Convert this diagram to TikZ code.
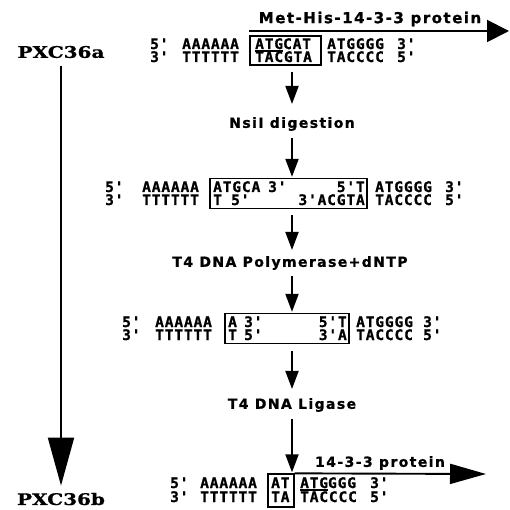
\documentclass[tikz,border=0pt]{standalone}
\usepackage{fontspec}
\newfontfamily\dnafont[LetterSpace=6,FakeBold=1]{DejaVu Sans Mono Bold}
\newfontfamily\labfont[LetterSpace=10,FakeBold=1]{DejaVu Sans Bold}
\newfontfamily\pxcfont[FakeBold=0.6]{DejaVu Serif Bold}
\usetikzlibrary{arrows.meta}
\newcommand{\ulbar}[1]{\setbox0\hbox{#1}\rlap{\rule[-2.8pt]{\wd0}{1.5pt}}\box0}
\begin{document}
\begin{tikzpicture}[x=1pt,y=-1pt,
  dna/.style={anchor=base west,inner sep=0pt,font=\dnafont\fontsize{14.5}{16}\selectfont},
  lab/.style={inner sep=0pt,font=\labfont\fontsize{14}{16}\selectfont},
  pxc/.style={inner sep=0pt,font=\pxcfont\fontsize{16}{18}\selectfont},
  cutbox/.style={draw,line width=1.3pt,inner sep=0pt},
  stepline/.style={line width=1.9pt,-{Triangle[length=18pt,width=13pt]}},
  orfline/.style={line width=1.9pt,-{Triangle[length=22pt,width=22pt]}},
  bigline/.style={line width=1.9pt,-{Triangle[length=48pt,width=26pt]}}]
\useasboundingbox (0,0) rectangle (509,510);
% plasmid names
\node[pxc] (pa) at (61,52) {\scalebox{1.25}[1]{PXC36a}};
\node[pxc] (pb) at (61,499) {\scalebox{1.25}[1]{PXC36b}};
\draw[bigline,shorten <=8pt,shorten >=7pt] (pa.south) -- (pb.north);
% pXC36a site
\node[cutbox,minimum width=71pt,minimum height=29pt] (b1) at (285.5,50.5) {};
\foreach \t/\x [count=\i] in {5'/150,AAAAAA/182,ATGGGG/327,3'/397} \node[dna] (ra\i) at (\x,49) {\t};
\node[dna] (ra5) at (255,49) {\ulbar{ATG}CAT};
\foreach \t/\x [count=\i] in {3'/150,TTTTTT/182,TACGTA/255,TACCCC/327,5'/397} \node[dna] (rb\i) at (\x,62) {\t};
\node[lab,font=\labfont\fontsize{15}{17}\selectfont] (met) at (370,19) {Met-His-14-3-3 protein};
\coordinate (mtip) at (509,31);
\draw[orfline] (b1.north west |- mtip) -- (mtip);
% steps
\node[lab] (nsi) at (292,124) {NsiI digestion};
\node[lab] (poly) at (290,263) {T4 DNA Polymerase+dNTP};
\node[lab] (liga) at (292,405) {T4 DNA Ligase};
% cut ends
\node[cutbox,minimum width=157pt,minimum height=30pt] (b2) at (288.5,193.5) {};
\foreach \t/\x [count=\i] in {5'/105,AAAAAA/142,ATGCA/213,3'/268,ATGGGG/375,3'/445} \node[dna] (rc\i) at (\x,192) {\t};
\node[dna,anchor=base east] (rc7) at (365,192) {5'T};
\foreach \t/\x [count=\i] in {3'/105,TTTTTT/142,T/213,5'/231,TACCCC/375,5'/445} \node[dna] (rd\i) at (\x,205) {\t};
\node[dna,anchor=base east] (rd7) at (365,205) {3'ACGTA};
% blunt ends
\node[cutbox,minimum width=124pt,minimum height=30pt] (b3) at (287,328.5) {};
\foreach \t/\x [count=\i] in {5'/122,AAAAAA/155,A/228,3'/244,ATGGGG/356,3'/423} \node[dna] (re\i) at (\x,327) {\t};
\node[dna,anchor=base east] (re7) at (347,327) {5'T};
\foreach \t/\x [count=\i] in {3'/122,TTTTTT/155,T/228,5'/244,TACCCC/356,5'/423} \node[dna] (rf\i) at (\x,340) {\t};
\node[dna,anchor=base east] (rf7) at (347,340) {3'A};
% pXC36b site
\node[cutbox,minimum width=26pt,minimum height=33pt] (b4) at (281,490.5) {};
\foreach \t/\x [count=\i] in {5'/170,AAAAAA/200,AT/271,3'/370} \node[dna] (rg\i) at (\x,488) {\t};
\node[dna] (rg5) at (300,488) {\ulbar{ATG}GGG};
\foreach \t/\x [count=\i] in {3'/170,TTTTTT/200,TA/271,TACCCC/300,5'/370} \node[dna] (rh\i) at (\x,502) {\t};
\node[lab] (prot) at (380,463) {14-3-3 protein};
\coordinate (ptip) at (486,474);
\draw[line width=1.9pt,-{Triangle[length=36pt,width=20pt]}] (b4.north east) -- (ptip);
% step arrows
\draw[stepline,shorten <=6pt,shorten >=13pt] (b1.south -| nsi) -- (nsi.north);
\draw[stepline,shorten <=7pt,shorten >=1pt] (nsi.south) -- (b2.north -| nsi);
\draw[stepline,shorten <=6pt,shorten >=6pt] (b2.south -| nsi) -- (poly.north -| nsi);
\draw[stepline,shorten <=6pt,shorten >=1pt] (poly.south -| nsi) -- (b3.north -| nsi);
\draw[stepline,shorten <=7pt,shorten >=9pt] (b3.south -| liga) -- (liga.north);
\draw[stepline,shorten <=7pt,shorten >=1pt] (liga.south) -- (b4.north -| liga);
\end{tikzpicture}
\end{document}
